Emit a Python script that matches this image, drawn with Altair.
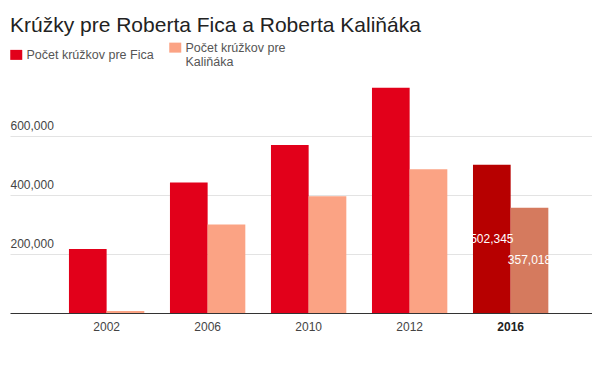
import altair as alt
import pandas as pd

years = ["2002", "2006", "2010", "2012", "2016"]
fico = [216600, 442000, 569500, 763800, 502345]
kalinak = [7000, 300000, 396000, 487300, 357018]

S_FICO = "Počet krúžkov pre Fica"
S_KAL = "Počet krúžkov pre Kaliňáka"
HL_FICO = "Fico 2016"
HL_KAL = "Kaliňák 2016"

rows = []
for y, f, k in zip(years, fico, kalinak):
    rows.append({"year": y, "series": S_FICO, "value": f,
                 "ckey": HL_FICO if y == "2016" else S_FICO})
    rows.append({"year": y, "series": S_KAL, "value": k,
                 "ckey": HL_KAL if y == "2016" else S_KAL})
df = pd.DataFrame(rows)

FONT = "Liberation Sans"

x_scale = alt.Scale(paddingInner=0.254, paddingOuter=0.508, align=0.5745, round=False)
y_scale = alt.Scale(domain=[0, 800000], nice=False)

x_axis = alt.Axis(
    domain=True, domainColor="#333333", domainWidth=1,
    ticks=False, tickSize=0, grid=False,
    labelPadding=8, labelFontSize=12, labelFont=FONT,
    labelAngle=0,
    labelColor={"expr": "datum.value == '2016' ? '#222222' : '#444444'"},
    labelFontWeight={"expr": "datum.value == '2016' ? 'bold' : 'normal'"},
)
y_axis = alt.Axis(
    values=[200000, 400000, 600000],
    labelExpr="format(datum.value, ',')",
    domain=False, ticks=False, tickSize=0,
    labelAlign="left", labelPadding=0, labelOffset=-7,
    labelBaseline="alphabetic",
    labelFontSize=12, labelFont=FONT, labelColor="#444444",
    grid=True, gridColor="#e3e3e3", gridWidth=1,
)
xoff_scale = alt.Scale(paddingInner=0, paddingOuter=0, round=False)

bars = alt.Chart(df).mark_bar().encode(
    x=alt.X("year:N", sort=years, title=None, scale=x_scale, axis=x_axis),
    xOffset=alt.XOffset("series:N", sort=[S_FICO, S_KAL], scale=xoff_scale),
    y=alt.Y("value:Q", title=None, scale=y_scale, axis=y_axis),
    color=alt.Color(
        "ckey:N",
        scale=alt.Scale(
            domain=[S_FICO, S_KAL, HL_FICO, HL_KAL],
            range=["#e2001a", "#fba384", "#b70000", "#d57a5e"],
        ),
        legend=alt.Legend(
            title=None,
            values=[S_FICO, S_KAL],
            orient="none", direction="horizontal",
            legendX=0, legendY=-36,
            symbolType="M-1.2,-1H1.2V1H-1.2Z", symbolSize=100,
            symbolStrokeWidth=0,
            labelFontSize=12.5, labelFont=FONT, labelColor="#555555",
            labelOffset=4, columnPadding=15, labelLimit=300,
            labelExpr="datum.label == '" + S_KAL + "' ? ['Počet krúžkov pre', 'Kaliňáka'] : datum.label",
            padding=0,
        ),
    ),
)

labels = alt.Chart(df).transform_filter(
    alt.datum.year == "2016"
).transform_calculate(
    mid="datum.value / 2"
).mark_text(
    color="white", fontSize=12, font=FONT, baseline="middle", align="center"
).encode(
    x=alt.X("year:N", sort=years, title=None, scale=x_scale, axis=x_axis),
    xOffset=alt.XOffset("series:N", sort=[S_FICO, S_KAL], scale=xoff_scale),
    y=alt.Y("mid:Q", title=None, scale=y_scale, axis=y_axis),
    text=alt.Text("value:Q", format=","),
)

chart = alt.layer(bars, labels).properties(
    width=582,
    height=236,
    title=alt.TitleParams(
        "Krúžky pre Roberta Fica a Roberta Kaliňáka",
        anchor="start", fontSize=21, font=FONT, fontWeight="normal",
        color="#222222", offset=5,
    ),
    autosize=alt.AutoSizeParams(type="none"),
    padding={"left": 2, "top": 69, "right": 0, "bottom": 40},
).configure_view(stroke=None)

chart.save("out.html", embed_options={"renderer": "svg", "actions": False})
